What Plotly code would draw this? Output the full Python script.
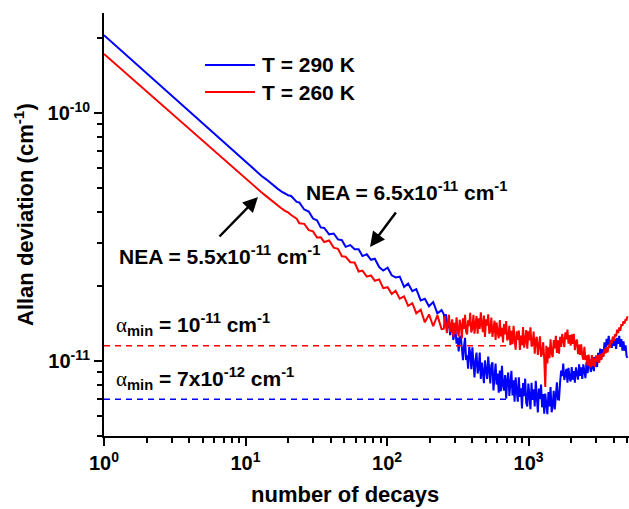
import math
import plotly.graph_objects as go

# number of decays (shared x for both series)
decays = list(range(1, 21)) + [
    21, 23, 24, 26, 28, 30, 32, 34, 36, 39, 42, 45, 48, 51, 55, 59, 63, 67, 72, 77,
    82, 88, 94, 101, 108, 115, 123, 132, 141, 151, 161, 173, 185, 198, 212, 227, 243,
    252, 256, 261, 265, 270, 274, 279, 284, 289, 294,
    299, 304, 310, 315, 321, 326, 332, 338, 344, 350,
    356, 362, 368, 374, 381, 387, 394, 401, 408, 415,
    422, 429, 437, 444, 452, 460, 468, 476, 484, 492,
    501, 510, 519, 528, 537, 546, 556, 565, 575, 585,
    595, 605, 616, 627, 638, 649, 660, 671, 683, 695,
    707, 719, 732, 744, 757, 770, 784, 797, 811, 825,
    840, 854, 869, 884, 899, 915, 931, 947, 963, 980,
    997, 1014, 1032, 1050, 1068, 1087, 1106, 1125, 1144, 1164,
    1184, 1205, 1226, 1247, 1269, 1291, 1313, 1336, 1359, 1383,
    1407, 1431, 1456, 1481, 1507, 1533, 1560, 1587, 1614, 1642,
    1671, 1700, 1729, 1759, 1790, 1821, 1852, 1884, 1917, 1950,
    1984, 2019, 2054, 2090, 2126, 2163, 2200, 2238, 2277, 2317,
    2357, 2398, 2439, 2482, 2525, 2569, 2613, 2659, 2705, 2752,
    2799, 2848, 2897, 2948, 2999, 3051, 3104, 3158, 3212, 3268,
    3325, 3383, 3441, 3501, 3562, 3623, 3686, 3750, 3815, 3881,
    3949, 4017, 4087, 4158, 4230, 4304, 4378, 4454, 4531, 4610,
    4690, 4771, 4854, 4927, 5000]

# Allan deviation at T = 290 K, in units of 1e-11 cm^-1
dev_290K = [
    20.6, 14.47, 11.76, 10.15, 9.05, 8.24, 7.62, 7.11, 6.70, 6.35,
    6.04, 5.80, 5.57, 5.40, 5.22, 5.06, 4.93, 4.82, 4.72, 4.66,
    4.627, 4.377, 4.357, 4.079, 4.000, 3.751, 3.689, 3.454, 3.438, 3.240,
    3.264, 3.090, 3.067, 2.885, 2.931, 2.821, 2.821, 2.647, 2.691, 2.557,
    2.584, 2.392, 2.315, 2.376, 2.214, 2.172, 2.186, 1.990, 2.050, 1.911,
    1.947, 1.755, 1.780, 1.661, 1.726, 1.556, 1.603,
    1.543, 1.426, 1.543, 1.350, 1.383, 1.454, 1.270, 1.370, 1.395, 1.215,
    1.264, 1.348, 1.175, 1.242, 1.092, 1.236, 1.263, 1.096, 1.006, 1.142,
    1.240, 1.008, 1.054, 0.931, 1.139, 1.076, 0.926, 1.135, 0.951, 0.858,
    1.005, 1.080, 0.890, 0.931, 1.080, 0.845, 0.984, 0.878, 0.813, 1.004,
    0.938, 0.845, 1.042, 0.879, 0.812, 0.960, 0.987, 0.761, 0.866, 0.976,
    0.803, 0.889, 0.745, 0.914, 0.754, 0.956, 0.799, 0.759, 0.877, 0.705,
    0.838, 0.898, 0.723, 0.797, 0.912, 0.725, 0.836, 0.684, 0.858, 0.756,
    0.685, 0.859, 0.716, 0.776, 0.643, 0.815, 0.721, 0.848, 0.677, 0.656,
    0.810, 0.730, 0.639, 0.817, 0.696, 0.769, 0.655, 0.831, 0.671, 0.620,
    0.773, 0.702, 0.803, 0.650, 0.735, 0.612, 0.738, 0.643, 0.610, 0.749,
    0.655, 0.785, 0.621, 0.658, 0.758, 0.637, 0.740, 0.819, 0.700, 0.699,
    0.817, 0.915, 0.869, 0.975, 0.838, 0.874, 0.929, 0.818, 0.937, 0.852,
    0.827, 0.945, 0.841, 0.909, 0.817, 0.942, 0.886, 0.840, 0.969, 0.871,
    0.943, 0.846, 0.969, 0.904, 0.852, 0.992, 0.893, 0.957, 1.017, 0.902,
    0.936, 1.036, 0.910, 1.037, 0.964, 0.946, 1.078, 1.012, 1.122, 1.016,
    1.117, 1.051, 1.189, 1.076, 1.229, 1.156, 1.261, 1.139, 1.216, 1.129,
    1.249, 1.150, 1.226, 1.118, 1.238, 1.172, 1.261, 1.139, 1.226, 1.100,
    1.199, 1.099, 1.155, 1.046, 1.029]

# Allan deviation at T = 260 K, in units of 1e-11 cm^-1
dev_260K = [
    17.3, 12.20, 9.94, 8.60, 7.69, 7.01, 6.49, 6.07, 5.72, 5.42,
    5.17, 4.96, 4.78, 4.62, 4.47, 4.34, 4.22, 4.12, 4.03, 3.97,
    3.876, 3.748, 3.591, 3.571, 3.369, 3.331, 3.145, 3.151, 3.017, 3.059,
    2.864, 2.832, 2.644, 2.630, 2.501, 2.494, 2.294, 2.313, 2.186, 2.212,
    2.104, 2.132, 1.966, 1.983, 1.860, 1.918, 1.782, 1.820, 1.668, 1.709,
    1.557, 1.610, 1.430, 1.540, 1.380, 1.527, 1.344,
    1.349, 1.519, 1.383, 1.293, 1.456, 1.536, 1.310, 1.381, 1.470, 1.253,
    1.425, 1.283, 1.500, 1.328, 1.254, 1.466, 1.399, 1.232, 1.486, 1.345,
    1.533, 1.312, 1.279, 1.457, 1.382, 1.564, 1.302, 1.356, 1.534, 1.288,
    1.458, 1.518, 1.289, 1.485, 1.345, 1.570, 1.401, 1.307, 1.525, 1.250,
    1.472, 1.387, 1.543, 1.288, 1.321, 1.497, 1.250, 1.393, 1.453, 1.214,
    1.427, 1.309, 1.234, 1.463, 1.256, 1.359, 1.188, 1.409, 1.278, 1.448,
    1.209, 1.237, 1.387, 1.157, 1.323, 1.167, 1.386, 1.212, 1.110, 1.317,
    1.217, 1.327, 1.107, 1.264, 1.156, 1.370, 1.131, 1.211, 1.332, 1.120,
    1.315, 1.210, 1.365, 1.143, 1.165, 1.313, 1.070, 1.217, 1.252, 1.058,
    1.160, 1.256, 1.040, 1.068, 1.190, 1.023, 0.785, 1.151, 0.977, 1.134,
    1.026, 1.222, 1.074, 1.035, 1.213, 1.123, 1.263, 1.076, 1.212, 1.070,
    1.250, 1.139, 1.284, 1.180, 1.136, 1.304, 1.222, 1.338, 1.174, 1.270,
    1.152, 1.279, 1.172, 1.285, 1.106, 1.194, 1.219, 1.064, 1.163, 1.057,
    1.167, 1.053, 1.012, 1.139, 1.008, 1.053, 0.956, 1.060, 0.959, 0.943,
    1.055, 0.957, 1.025, 0.947, 1.052, 0.993, 1.057, 0.981, 1.066, 1.009,
    1.077, 1.039, 1.121, 1.072, 1.135, 1.082, 1.163, 1.128, 1.211, 1.176,
    1.253, 1.206, 1.283, 1.257, 1.336, 1.296, 1.365, 1.323, 1.406, 1.387,
    1.446, 1.415, 1.476, 1.454, 1.513]

unit = 1e-11

# minimum-detectable absorption levels (cm^-1) and extent of their dashed lines
alpha_min_260K = 1.15e-11
alpha_min_290K = 7.0e-12
alpha_line_x_260K = [1, 740]
alpha_line_x_290K = [1, 700]

series_names = ["T = 290 K", "T = 260 K"]
series_colors = ["#0000FF", "#FF0000"]

x_tickvals = [1, 10, 100, 1000]
x_ticktext = ["<b>10<sup>0</sup></b>", "<b>10<sup>1</sup></b>",
              "<b>10<sup>2</sup></b>", "<b>10<sup>3</sup></b>"]
x_minor = [m * d for d in (1, 10, 100, 1000) for m in range(2, 10)]
y_tickvals = [1e-11, 1e-10]
y_ticktext = ["<b>10<sup>-11</sup></b>", "<b>10<sup>-10</sup></b>"]
y_minor = [m * 1e-12 for m in range(5, 10)] + [m * 1e-11 for m in range(2, 10)] + [2e-10]

fig = go.Figure()
fig.add_trace(go.Scatter(x=decays, y=[v * unit for v in dev_290K], mode="lines",
                         name=series_names[0], line=dict(color=series_colors[0], width=2)))
fig.add_trace(go.Scatter(x=decays, y=[v * unit for v in dev_260K], mode="lines",
                         name=series_names[1], line=dict(color=series_colors[1], width=2)))
fig.add_trace(go.Scatter(x=alpha_line_x_260K, y=[alpha_min_260K] * 2, mode="lines",
                         line=dict(color=series_colors[1], width=1.5, dash="6px,5px"),
                         showlegend=False))
fig.add_trace(go.Scatter(x=alpha_line_x_290K, y=[alpha_min_290K] * 2, mode="lines",
                         line=dict(color=series_colors[0], width=1.5, dash="6px,5px"),
                         showlegend=False))

W, H = 629, 509
L, R, T, B = 104, 0, 13, 73
PW, PH = W - L - R, H - T - B


def px(xpix):
    return (xpix - L) / PW


def py(ypix):
    return (H - B - ypix) / PH


FONT = "Liberation Sans, Arial, sans-serif"

# manual legend
for nm, col, yy in zip(series_names, series_colors, [65, 92]):
    fig.add_shape(type="line", xref="paper", yref="paper", x0=px(205), x1=px(255),
                  y0=py(yy), y1=py(yy), line=dict(color=col, width=2))
    fig.add_annotation(xref="paper", yref="paper", x=px(260), y=py(yy), xanchor="left",
                       yanchor="middle", text="<b>" + nm + "</b>", showarrow=False,
                       font=dict(size=21, color="black", family=FONT))

# NEA labels and arrows
fig.add_annotation(xref="paper", yref="paper", x=px(304), y=py(191), xanchor="left",
                   yanchor="middle", showarrow=False,
                   text="<b>NEA = 6.5x10<sup>-11</sup> cm<sup>-1</sup></b>",
                   font=dict(size=21, color="black", family=FONT))
fig.add_annotation(xref="paper", yref="paper", x=px(117), y=py(255), xanchor="left",
                   yanchor="middle", showarrow=False,
                   text="<b>NEA = 5.5x10<sup>-11</sup> cm<sup>-1</sup></b>",
                   font=dict(size=21, color="black", family=FONT))
fig.add_annotation(xref="paper", yref="paper", x=px(370), y=py(247), ax=27, ay=-36,
                   text="", showarrow=True, arrowhead=2, arrowsize=1.2, arrowwidth=2.5,
                   arrowcolor="black")
fig.add_annotation(xref="paper", yref="paper", x=px(258), y=py(197), ax=-40, ay=41,
                   text="", showarrow=True, arrowhead=2, arrowsize=1.2, arrowwidth=2.5,
                   arrowcolor="black")

# alpha_min labels
alpha = "<span style='font-family:Liberation Serif'>α</span>"
fig.add_annotation(xref="paper", yref="paper", x=px(114), y=py(324), xanchor="left",
                   yanchor="middle", showarrow=False,
                   text=alpha + "<b><sub>min</sub> = 10<sup>-11</sup> cm<sup>-1</sup></b>",
                   font=dict(size=21, color="black", family=FONT))
fig.add_annotation(xref="paper", yref="paper", x=px(114), y=py(378), xanchor="left",
                   yanchor="middle", showarrow=False,
                   text=alpha + "<b><sub>min</sub> = 7x10<sup>-12</sup> cm<sup>-1</sup></b>",
                   font=dict(size=21, color="black", family=FONT))

# axis titles
fig.add_annotation(xref="paper", yref="paper", x=px(24), y=py(214), textangle=-90,
                   xanchor="center", yanchor="middle", showarrow=False,
                   text="<b>Allan deviation (cm<sup>-1</sup>)</b>",
                   font=dict(size=22, color="black", family=FONT))
fig.add_annotation(xref="paper", yref="paper", x=px(345), y=py(494),
                   xanchor="center", yanchor="middle", showarrow=False,
                   text="<b>number of decays</b>",
                   font=dict(size=22, color="black", family=FONT))

axis_common = dict(showline=True, linewidth=2, linecolor="black", mirror=False,
                   ticks="outside", ticklen=8, tickwidth=2, tickcolor="black",
                   showgrid=False, zeroline=False,
                   tickfont=dict(size=20, color="black", family=FONT))

fig.update_xaxes(type="log", range=[0, 3.710], tickmode="array", tickvals=x_tickvals,
                 ticktext=x_ticktext,
                 minor=dict(tickmode="array", tickvals=x_minor, ticks="outside", ticklen=5,
                            tickwidth=2, tickcolor="black", showgrid=False),
                 **axis_common)
fig.update_yaxes(type="log", range=[math.log10(4.98e-12), math.log10(2.53e-10)],
                 tickmode="array", tickvals=y_tickvals, ticktext=y_ticktext,
                 minor=dict(tickmode="array", tickvals=y_minor, ticks="outside", ticklen=5,
                            tickwidth=2, tickcolor="black", showgrid=False),
                 **axis_common)

fig.update_layout(width=W, height=H, margin=dict(l=L, r=R, t=T, b=B, pad=0),
                  plot_bgcolor="white", paper_bgcolor="white", showlegend=False,
                  font=dict(family=FONT, color="black"))

fig.write_html("out.html")
